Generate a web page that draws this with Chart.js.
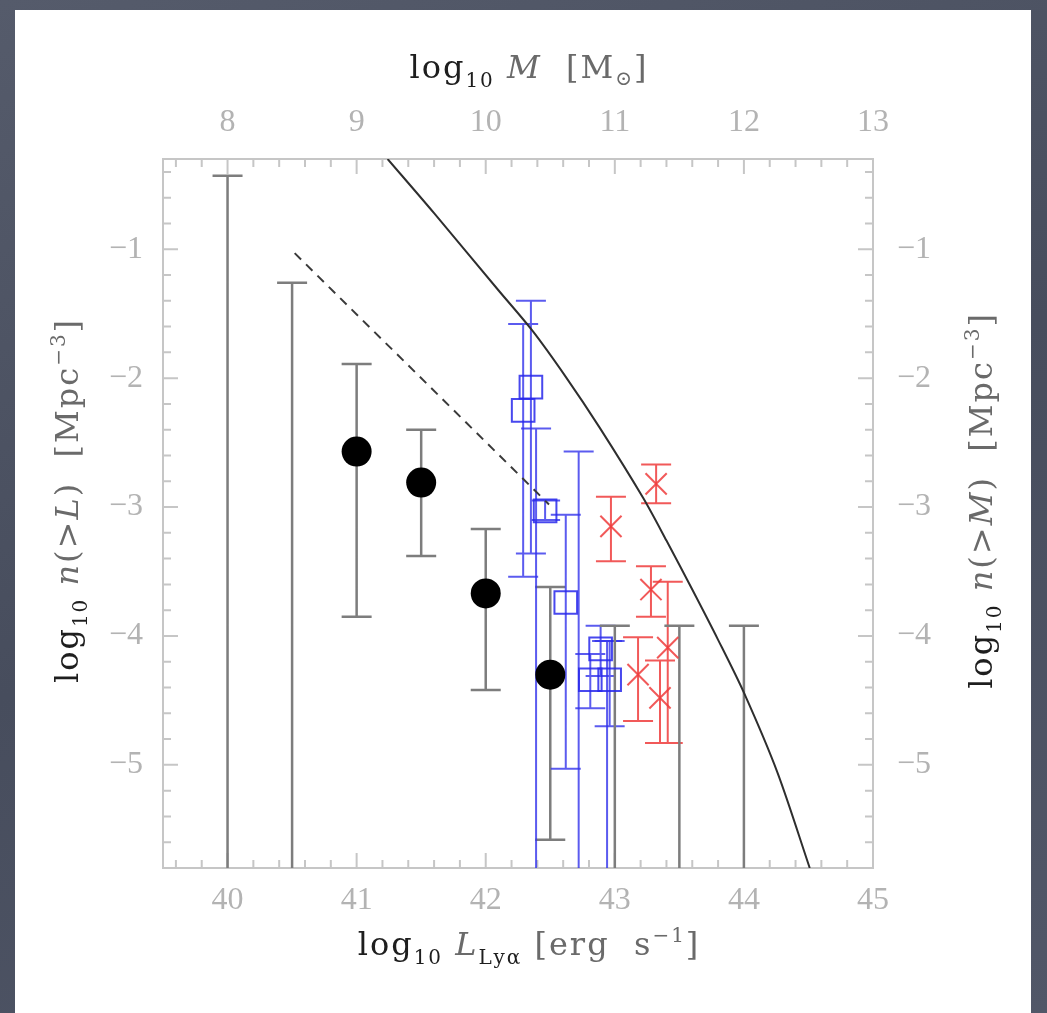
<!DOCTYPE html>
<html>
<head>
<meta charset="utf-8">
<title>Cumulative number density vs Lya luminosity</title>
<script src="https://cdn.jsdelivr.net/npm/chart.js@4.4.1/dist/chart.umd.min.js"></script>
<style>
  html, body { margin: 0; padding: 0; }
  body {
    width: 1047px; height: 1013px; position: relative; overflow: hidden;
    background: linear-gradient(160deg, #555b6b 0%, #474d5d 50%, #515768 100%);
  }
  .panel { position: absolute; left: 15px; top: 10px; width: 1016px; height: 1003px; background: #fff; }
  canvas { position: absolute; left: 0; top: 0; }
</style>
</head>
<body>
<div class="panel"></div>
<canvas id="densityChart" width="1047" height="1013"></canvas>
<script>
// tick labels
const lumTicks = [40, 41, 42, 43, 44, 45];
const massTicks = [8, 9, 10, 11, 12, 13];
const densTicks = [-1, -2, -3, -4, -5];

// filled circles with error bars
const circleL = [41.0, 41.5, 42.0, 42.5];
const circleN = [-2.57, -2.81, -3.67, -4.30];
const circleHi = [-1.89, -2.40, -3.17, -3.62];
const circleLo = [-3.85, -3.38, -4.42, -5.58];

// grey bars that run off the bottom of the plot
const limitL = [40.0, 40.5, 43.0, 43.5, 44.0];
const limitTop = [-0.43, -1.26, -3.92, -3.92, -3.92];

// open squares
const squareL = [42.35, 42.29, 42.46, 42.62, 42.89, 42.81, 42.96];
const squareN = [-2.07, -2.25, -3.03, -3.74, -4.10, -4.34, -4.34];
const squareHi = [-1.40, -1.58, -2.95, -3.06, -3.92, -4.14, -4.04];
const squareLo = [-3.36, -3.54, -3.10, -5.03, -4.31, -4.56, -4.70];

// blue bars without a marker, open at the bottom
const blueLimitL = [42.39, 42.72, 42.94];
const blueLimitTop = [-2.39, -2.57, -4.04];

// crosses
const crossL = [42.97, 43.32, 43.28, 43.41, 43.18, 43.35];
const crossN = [-3.15, -2.82, -3.64, -4.09, -4.30, -4.48];
const crossHi = [-2.92, -2.67, -3.46, -3.58, -4.01, -4.19];
const crossLo = [-3.42, -2.97, -3.85, -4.83, -4.66, -4.83];

// model curve (solid) and dashed line
const curveL = [41.24, 41.60, 42.10, 42.36, 42.62, 42.88, 43.22, 43.40, 43.60, 43.80, 44.00, 44.26, 44.51];
const curveN = [-0.30, -0.72, -1.32, -1.63, -1.99, -2.38, -2.93, -3.26, -3.64, -4.03, -4.44, -5.06, -5.80];
const dashL = [40.52, 42.49];
const dashN = [-1.03, -2.98];

const pts = (xs, ys) => xs.map((v, i) => ({ x: v, y: ys[i] }));

const tickFont = { family: "'Liberation Serif', 'DejaVu Serif', serif", size: 32 };
const tickColor = '#b3b3b3';
const minus = v => (v < 0 ? '\u2212' + Math.abs(v) : String(v));

// frame and inward tick marks on all four sides
const frameTicks = {
  id: 'frameTicks',
  beforeDatasetsDraw(chart) {
    const { ctx, chartArea: a, scales: { x, y } } = chart;
    ctx.save();
    ctx.strokeStyle = '#c6c6c6';
    ctx.lineWidth = 2;
    ctx.strokeRect(a.left, a.top, a.width, a.height);
    ctx.beginPath();
    for (let k = Math.ceil(x.min * 5); k <= Math.floor(x.max * 5); k++) {
      const len = k % 5 === 0 ? 15 : 8;
      const px = x.getPixelForValue(k / 5);
      ctx.moveTo(px, a.bottom); ctx.lineTo(px, a.bottom - len);
      ctx.moveTo(px, a.top); ctx.lineTo(px, a.top + len);
    }
    for (let k = Math.ceil(y.min * 5); k <= Math.floor(y.max * 5); k++) {
      const len = k % 5 === 0 ? 15 : 8;
      const py = y.getPixelForValue(k / 5);
      ctx.moveTo(a.left, py); ctx.lineTo(a.left + len, py);
      ctx.moveTo(a.right, py); ctx.lineTo(a.right - len, py);
    }
    ctx.stroke();
    ctx.restore();
  }
};

// vertical error bars; a missing lower value means the bar runs to the axis
const errorBars = {
  id: 'errorBars',
  beforeDatasetsDraw(chart) {
    const { ctx, chartArea: a, scales: { x, y } } = chart;
    ctx.save();
    ctx.beginPath();
    ctx.rect(a.left, a.top, a.width, a.height);
    ctx.clip();
    chart.data.datasets.forEach(ds => {
      if (!ds.errHi) return;
      ctx.strokeStyle = ds.errColor;
      ctx.lineWidth = ds.errWidth;
      ctx.beginPath();
      ds.data.forEach((p, i) => {
        const px = x.getPixelForValue(p.x);
        const top = y.getPixelForValue(ds.errHi[i]);
        const lo = ds.errLo ? ds.errLo[i] : null;
        const bot = lo === null ? a.bottom + 5 : y.getPixelForValue(lo);
        ctx.moveTo(px, top); ctx.lineTo(px, bot);
        ctx.moveTo(px - 15, top); ctx.lineTo(px + 15, top);
        if (lo !== null) { ctx.moveTo(px - 15, bot); ctx.lineTo(px + 15, bot); }
      });
      ctx.stroke();
    });
    ctx.restore();
  }
};

// axis titles with sub- and superscripts
function drawRich(ctx, parts, cx, cy, angle) {
  ctx.save();
  ctx.translate(cx, cy);
  ctx.rotate(angle);
  ctx.letterSpacing = '2px';
  let total = 0;
  parts.forEach(p => { ctx.font = p.f; p.w = ctx.measureText(p.t).width; total += p.w; });
  let xPos = -total / 2;
  ctx.textBaseline = 'alphabetic';
  parts.forEach(p => {
    ctx.font = p.f; ctx.fillStyle = p.c;
    ctx.fillText(p.t, xPos, p.dy || 0);
    xPos += p.w;
  });
  ctx.restore();
}

const serif = "'DejaVu Serif', 'Liberation Serif', serif";
const big = '32px ' + serif;
const bigIt = 'italic 32px ' + serif;
const small = '20px ' + serif;
const dark = '#1e1e1e';
const grey = '#6a6a6a';

const logPart = [
  { t: 'log', f: big, c: dark },
  { t: '10', f: small, c: dark, dy: 9 },
  { t: ' ', f: big, c: grey }
];

const axisTitles = {
  id: 'axisTitles',
  afterDraw(chart) {
    const { ctx, chartArea: a } = chart;
    const cx = (a.left + a.right) / 2;
    const cy = (a.top + a.bottom) / 2 - 13;
    drawRich(ctx, [...logPart,
      { t: 'M', f: bigIt, c: grey },
      { t: '  [M', f: big, c: grey },
      { t: '\u2299', f: small, c: grey, dy: 7 },
      { t: ']', f: big, c: grey }
    ], cx + 11, 78, 0);
    drawRich(ctx, [...logPart,
      { t: 'L', f: bigIt, c: grey },
      { t: 'Ly\u03b1', f: small, c: dark, dy: 9 },
      { t: ' [erg  s', f: big, c: grey },
      { t: '\u22121', f: small, c: grey, dy: -13 },
      { t: ']', f: big, c: grey }
    ], cx + 11, 955, 0);
    const nPart = ch => [...logPart,
      { t: 'n', f: bigIt, c: grey },
      { t: '(>', f: big, c: grey },
      { t: ch, f: bigIt, c: grey },
      { t: ')  [Mpc', f: big, c: grey },
      { t: '\u22123', f: small, c: grey, dy: -13 },
      { t: ']', f: big, c: grey }
    ];
    drawRich(ctx, nPart('L'), 78, cy, -Math.PI / 2);
    drawRich(ctx, nPart('M'), 992, cy, -Math.PI / 2);
  }
};

new Chart(document.getElementById('densityChart'), {
  type: 'scatter',
  data: {
    datasets: [
      {
        data: pts(circleL, circleN),
        errHi: circleHi, errLo: circleLo, errColor: '#7d7d7d', errWidth: 2.5,
        pointStyle: 'circle', pointRadius: 15,
        backgroundColor: '#000', borderColor: '#000', borderWidth: 0
      },
      {
        data: pts(crossL, crossN),
        errHi: crossHi, errLo: crossLo, errColor: 'rgba(238,60,60,0.85)', errWidth: 2,
        pointStyle: 'crossRot', pointRadius: 15,
        borderColor: 'rgba(238,60,60,0.85)', borderWidth: 2
      },
      {
        data: pts(squareL, squareN),
        errHi: squareHi, errLo: squareLo, errColor: 'rgba(50,50,235,0.8)', errWidth: 2,
        pointStyle: 'rect', pointRadius: 16,
        backgroundColor: 'rgba(0,0,0,0)', borderColor: 'rgba(40,40,235,0.85)', borderWidth: 2
      },
      {
        data: pts(blueLimitL, blueLimitTop),
        errHi: blueLimitTop, errLo: null, errColor: 'rgba(50,50,235,0.8)', errWidth: 2,
        pointRadius: 0
      },
      {
        data: pts(limitL, limitTop),
        errHi: limitTop, errLo: null, errColor: '#7d7d7d', errWidth: 2.5,
        pointRadius: 0
      },
      {
        data: pts(dashL, dashN),
        showLine: true, pointRadius: 0,
        borderColor: '#3a3a3a', borderWidth: 2, borderDash: [9, 7]
      },
      {
        data: pts(curveL, curveN),
        showLine: true, pointRadius: 0, tension: 0.3,
        borderColor: '#2e2e2e', borderWidth: 2
      }
    ]
  },
  options: {
    responsive: false,
    devicePixelRatio: 1,
    animation: false,
    events: [],
    layout: { padding: 0 },
    plugins: { legend: { display: false }, tooltip: { enabled: false } },
    scales: {
      x: {
        type: 'linear', position: 'bottom', min: 39.5, max: 45,
        grid: { display: false, drawTicks: false }, border: { display: false },
        ticks: { color: tickColor, font: tickFont, padding: 13, maxRotation: 0, callback: v => String(v) },
        afterBuildTicks: s => { s.ticks = lumTicks.map(v => ({ value: v })); },
        afterFit: s => { s.height = 145; }
      },
      xTop: {
        type: 'linear', position: 'top', min: 7.5, max: 13,
        grid: { display: false, drawTicks: false }, border: { display: false },
        ticks: { color: tickColor, font: tickFont, padding: 17, maxRotation: 0, callback: v => String(v) },
        afterBuildTicks: s => { s.ticks = massTicks.map(v => ({ value: v })); },
        afterFit: s => { s.height = 159; }
      },
      y: {
        type: 'linear', position: 'left', min: -5.8, max: -0.3,
        grid: { display: false, drawTicks: false }, border: { display: false },
        ticks: { color: tickColor, font: tickFont, padding: 20, callback: minus },
        afterBuildTicks: s => { s.ticks = densTicks.map(v => ({ value: v })); },
        afterFit: s => { s.width = 163; }
      },
      yRight: {
        type: 'linear', position: 'right', min: -5.8, max: -0.3,
        grid: { display: false, drawTicks: false }, border: { display: false },
        ticks: { color: tickColor, font: tickFont, padding: 24, callback: minus },
        afterBuildTicks: s => { s.ticks = densTicks.map(v => ({ value: v })); },
        afterFit: s => { s.width = 174; }
      }
    }
  },
  plugins: [frameTicks, errorBars, axisTitles]
});
</script>
</body>
</html>
